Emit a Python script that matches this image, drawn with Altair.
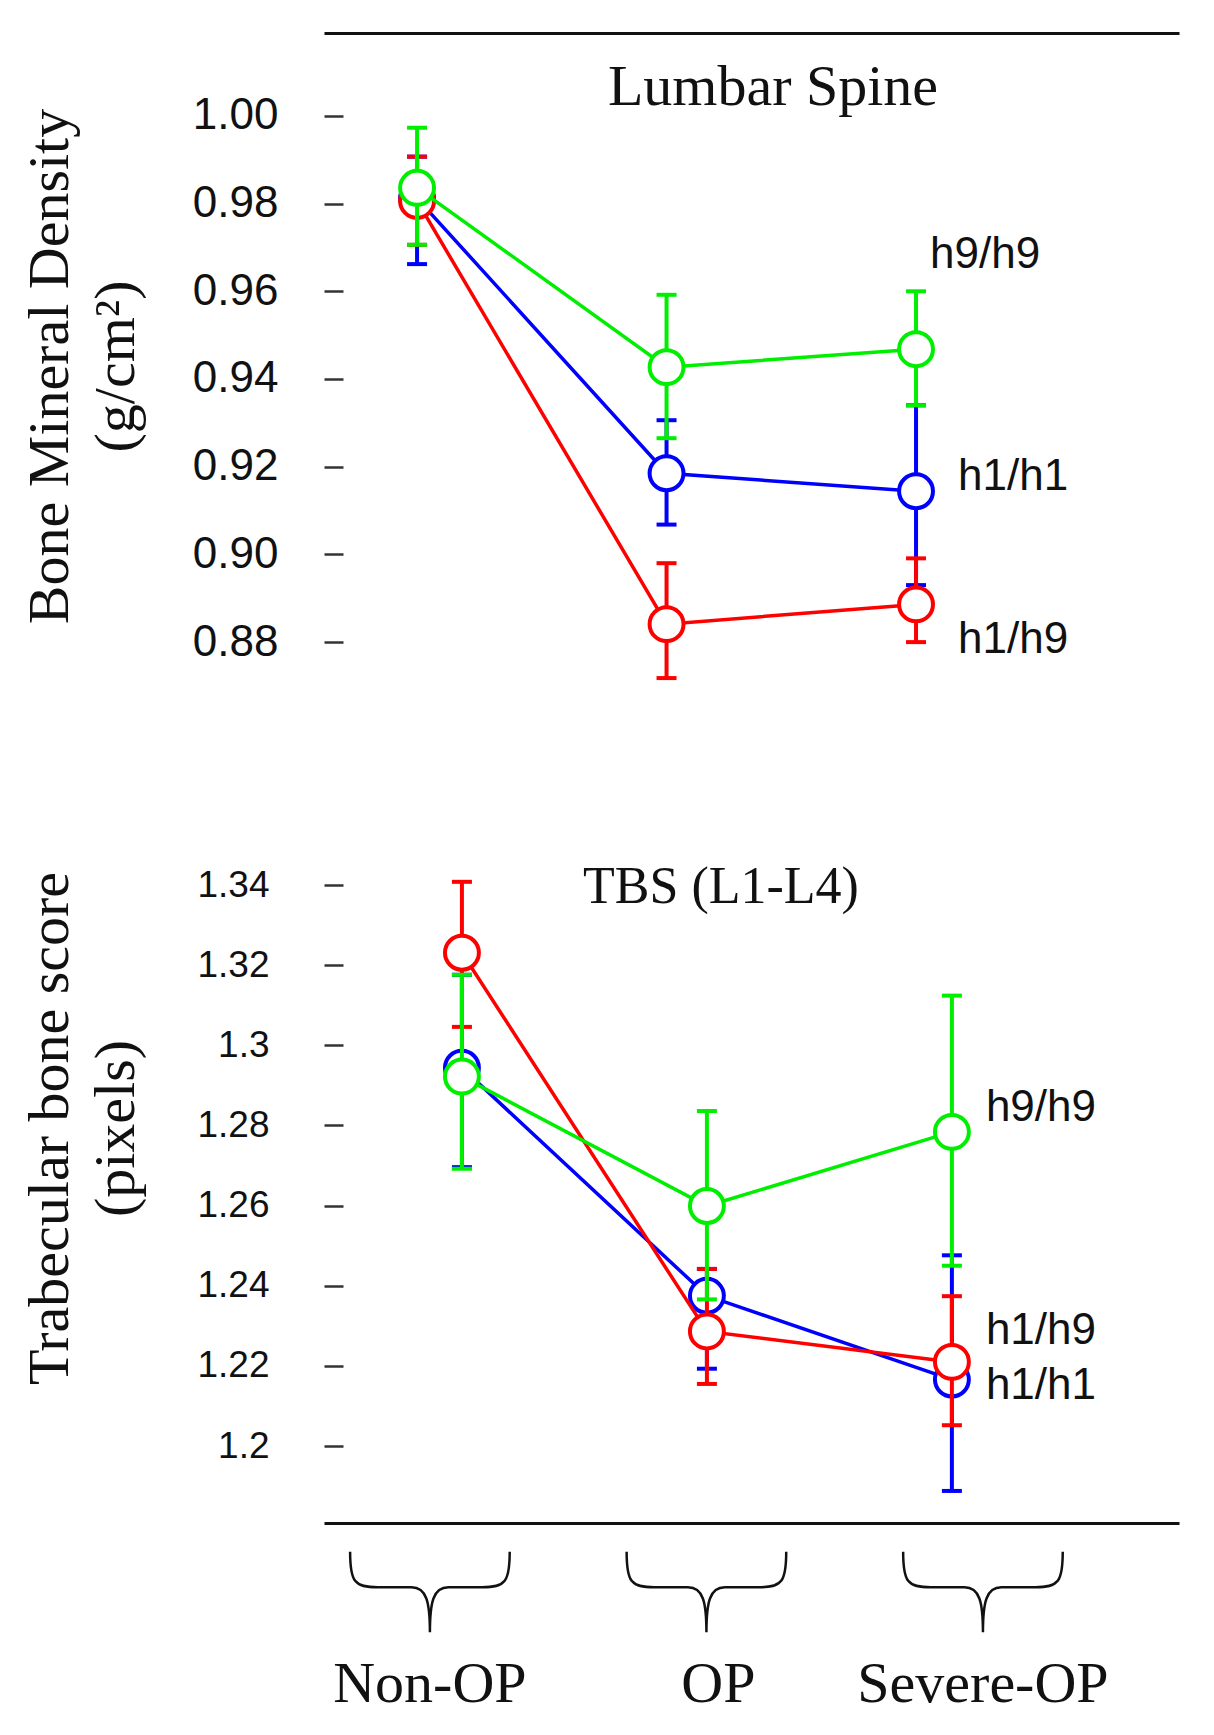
import altair as alt
import pandas as pd

# x categories and the three genotype series (drawn blue, red, green in that order)
groups = ["Non-OP", "OP", "Severe-OP"]
series = ["h1/h1", "h1/h9", "h9/h9"]
colors = ["#0000ff", "#ff0000", "#00ee00"]

# Lumbar spine BMD (g/cm2): mean and error bar ends, one value per group
bmd_h1h1 = [0.9812, 0.9185, 0.9144]
bmd_h1h1_lo = [0.9662, 0.9068, 0.8930]
bmd_h1h1_hi = [0.9907, 0.9306, 0.9340]
bmd_h1h9 = [0.9806, 0.8841, 0.8886]
bmd_h1h9_lo = [0.9706, 0.8718, 0.8800]
bmd_h1h9_hi = [0.9907, 0.8980, 0.8991]
bmd_h9h9 = [0.9836, 0.9427, 0.9468]
bmd_h9h9_lo = [0.9706, 0.9265, 0.9340]
bmd_h9h9_hi = [0.9973, 0.9592, 0.9600]

# TBS L1-L4 (pixels)
tbs_h1h1 = [1.2944, 1.2375, 1.2166]
tbs_h1h1_lo = [1.2696, 1.2193, 1.1888]
tbs_h1h1_hi = [1.3176, 1.2442, 1.2476]
tbs_h1h9 = [1.3231, 1.2286, 1.2210]
tbs_h1h9_lo = [1.3046, 1.2155, 1.2052]
tbs_h1h9_hi = [1.3408, 1.2442, 1.2374]
tbs_h9h9 = [1.2922, 1.2599, 1.2784]
tbs_h9h9_lo = [1.2692, 1.2366, 1.2450]
tbs_h9h9_hi = [1.3176, 1.2836, 1.3124]

bmd_ticks = [0.88, 0.90, 0.92, 0.94, 0.96, 0.98, 1.00]
tbs_ticks = [1.2, 1.22, 1.24, 1.26, 1.28, 1.3, 1.32, 1.34]

panel_titles = ["Lumbar Spine", "TBS (L1-L4)"]
bmd_title = ["Bone Mineral Density", "(g/cm²)"]
tbs_title = ["Trabecular bone score", "(pixels)"]

SERIF = "Liberation Serif"
SANS = "Liberation Sans"
WIDTH = 855

# open curly brace pointing down, drawn as a custom symbol in a -1..1 box
BRACE = ("M -0.95 -0.48 C -0.95 -0.12 -0.9 -0.056 -0.62 -0.056 L -0.22 -0.056 "
         "C -0.04 -0.056 0 0.12 0 0.48 C 0 0.12 0.04 -0.056 0.22 -0.056 "
         "L 0.62 -0.056 C 0.9 -0.056 0.95 -0.12 0.95 -0.48")


def make_frame(means, los, his):
    """Long table: one row per series and group."""
    rows = []
    for s, m, lo, hi in zip(series, means, los, his):
        for i in range(len(groups)):
            rows.append({"idx": i, "group": groups[i], "series": s,
                         "mean": m[i], "lo": lo[i], "hi": hi[i]})
    return pd.DataFrame(rows)


def panel(df, x_domain, y_domain, height, ticks, fmt, y_title, title, title_xy,
          title_size, label_size, label_pad, title_y, x_orient, label_dx, label_dy):
    x_enc = alt.X("idx:Q", scale=alt.Scale(domain=x_domain, nice=False, zero=False),
                  axis=alt.Axis(orient=x_orient, domain=True, domainColor="#111",
                                domainWidth=3, ticks=False, labels=False, grid=False,
                                title=None))
    y_axis = alt.Axis(values=ticks, format=fmt, domain=False, grid=False,
                      offset=-19, tickSize=19, tickWidth=2.5, tickColor="#333",
                      labelFont=SANS, labelFontSize=label_size, labelColor="#111",
                      labelPadding=label_pad, labelFlush=False, labelOverlap=False,
                      title=y_title, titleFont=SERIF, titleFontSize=58,
                      titleFontWeight="normal", titleColor="#111", titleLineHeight=66,
                      titleAngle=270, titleBaseline="middle", titleX=-293, titleY=title_y)
    y_scale = alt.Scale(domain=y_domain, nice=False, zero=False)

    layers = []
    for k, s in enumerate(series):
        sub = df[df["series"] == s]
        c = colors[k]
        base = alt.Chart(sub)
        y_enc = alt.Y("mean:Q", scale=y_scale, axis=y_axis)
        layers.append(base.mark_rule(color=c, strokeWidth=4).encode(
            x=x_enc, y=alt.Y("lo:Q", scale=y_scale, axis=y_axis), y2="hi:Q"))
        for end in ["lo", "hi"]:
            layers.append(base.mark_tick(color=c, orient="horizontal", size=20,
                                         thickness=4, opacity=1).encode(
                x=x_enc, y=alt.Y(f"{end}:Q", scale=y_scale, axis=y_axis)))
        layers.append(base.mark_line(color=c, strokeWidth=3.5).encode(x=x_enc, y=y_enc))
        layers.append(base.mark_point(shape="circle", filled=True, fill="white",
                                      stroke=c, strokeWidth=4, size=1150,
                                      opacity=1).encode(x=x_enc, y=y_enc))
        # genotype label next to the Severe-OP point
        layers.append(alt.Chart(sub[sub["idx"] == 2]).mark_text(
            align="left", baseline="middle", font=SANS, fontSize=44, color="#111",
            dx=label_dx[k], dy=label_dy[k]).encode(x=x_enc, y=y_enc, text="series:N"))

    layers.append(alt.Chart(pd.DataFrame({"t": [title]})).mark_text(
        font=SERIF, fontSize=title_size, color="#111", baseline="middle").encode(
        x=alt.value(title_xy[0]), y=alt.value(title_xy[1]), text="t:N"))

    return alt.layer(*layers).properties(width=WIDTH, height=height)


bmd = make_frame([bmd_h1h1, bmd_h1h9, bmd_h9h9],
                 [bmd_h1h1_lo, bmd_h1h9_lo, bmd_h9h9_lo],
                 [bmd_h1h1_hi, bmd_h1h9_hi, bmd_h9h9_hi])
tbs = make_frame([tbs_h1h1, tbs_h1h9, tbs_h9h9],
                 [tbs_h1h1_lo, tbs_h1h9_lo, tbs_h9h9_lo],
                 [tbs_h1h1_hi, tbs_h1h9_hi, tbs_h9h9_hi])

top = panel(bmd, [-0.373, 3.054], [0.8668, 1.0189], 667, bmd_ticks, ".2f", bmd_title,
            panel_titles[0], (449, 55), 58, 44, 46, 333, "top",
            [42, 42, 14], [-14, 36, -94])
bottom = panel(tbs, [-0.563, 2.927], [1.1808, 1.3712], 763, tbs_ticks, "~g", tbs_title,
               panel_titles[1], (397, 127), 52, 37, 55, 368, "bottom",
               [34, 34, 34], [6, -31, -24])

group_df = pd.DataFrame({"idx": list(range(len(groups))), "group": groups})
gx = alt.X("idx:Q", scale=alt.Scale(domain=[-0.383, 2.709], nice=False, zero=False),
           axis=None)
brace_layers = [
    alt.Chart(group_df).mark_point(shape=BRACE, size=28224, filled=False,
                                   stroke="#111", strokeWidth=2.5, opacity=1)
    .encode(x=gx, y=alt.value(63))
]
# group names under the braces; "OP" sits a little right of its brace
for i, dx in enumerate([0, 12, 0]):
    brace_layers.append(
        alt.Chart(group_df[group_df["idx"] == i]).mark_text(
            font=SERIF, fontSize=58, color="#111", baseline="middle", dx=dx)
        .encode(x=gx, y=alt.value(156), text="group:N"))
braces = alt.layer(*brace_layers).properties(width=WIDTH, height=190)

chart = (
    alt.vconcat(
        alt.vconcat(top, bottom, spacing=60).resolve_scale(x="independent", y="independent"),
        braces, spacing=6,
    )
    .resolve_scale(x="independent", y="independent")
    .properties(padding={"left": 13, "top": 25, "right": 5, "bottom": 5})
    .configure_view(strokeWidth=0)
)

chart.save("out.html", embed_options={"renderer": "svg", "actions": False})
